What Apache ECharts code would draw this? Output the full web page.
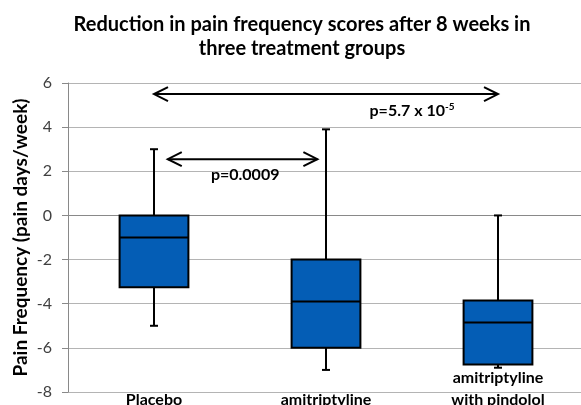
<!DOCTYPE html>
<html><head><meta charset="utf-8">
<script src="https://cdn.jsdelivr.net/npm/echarts@6/dist/echarts.min.js"></script>
<style>html,body{margin:0;padding:0;background:#fff}#c{width:581px;height:405px}</style>
</head><body><div id="c"></div>
<script>
const titleText = 'Reduction in pain frequency scores after 8 weeks in\nthree treatment groups';
const yAxisName = 'Pain Frequency (pain days/week)';
const categories = ['Placebo', 'amitriptyline', 'amitriptyline\nwith pindolol'];
const whiskerLow = [-5, -7, -6.9];
const q1 = [-3.25, -6, -6.75];
const median = [-1, -3.9, -4.85];
const q3 = [0, -2, -3.85];
const whiskerHigh = [3, 3.9, 0];
const yMin = -8, yMax = 6, yStep = 2;
// comparison arrows: [from category, to category, y value]
const arrowFrom = [0.08, 0];
const arrowTo = [0.95, 2];
const arrowY = [2.55, 5.5];
// p-value labels: [category position, y value]
const pText = ['{t|p=0.0009}', '{t|p=5.7 x 10}{s|-5}'];
const pX = [0.53, 1.5];
const pY = [1.82, 4.75];

const FONT = 'Lato, "Open Sans", sans-serif';
const boxData = categories.map((c, i) => [i, whiskerLow[i], q1[i], median[i], q3[i], whiskerHigh[i]]);
const arrowData = arrowFrom.map((f, i) => [f, arrowTo[i], arrowY[i]]);
const labelData = pX.map((x, i) => [x, pY[i], i]);

// map a fractional category position through the category axis
function catCoord(api, pos, val) {
  const c0 = api.coord([0, val]);
  const c1 = api.coord([1, val]);
  return [c0[0] + (c1[0] - c0[0]) * pos, c0[1]];
}

const chart = echarts.init(document.getElementById('c'), null, {renderer: 'canvas'});
chart.setOption({
  animation: false,
  title: {
    text: titleText, left: 297, top: 8, textAlign: 'center',
    textStyle: {fontFamily: FONT, fontSize: 20, fontWeight: 'bold', color: '#000', lineHeight: 24}
  },
  grid: {left: 68, top: 83, width: 516, height: 309, containLabel: false, outerBoundsMode: 'none'},
  xAxis: {
    type: 'category',
    data: categories,
    axisLine: {show: true, lineStyle: {color: '#898989', width: 1}},
    axisTick: {show: false},
    splitLine: {show: false},
    axisLabel: {
      interval: 0, margin: 19, verticalAlign: 'bottom', lineHeight: 22,
      showMinLabel: true, showMaxLabel: true, hideOverlap: false,
      fontFamily: FONT, fontSize: 16, fontWeight: 'bold', color: '#000'
    }
  },
  yAxis: {
    type: 'value', min: yMin, max: yMax, interval: yStep,
    name: yAxisName, nameLocation: 'middle', nameRotate: 90, nameGap: 38, nameMoveOverlap: false,
    nameTextStyle: {fontFamily: FONT, fontSize: 19, fontWeight: 'bold', color: '#000'},
    axisLine: {show: true, lineStyle: {color: '#898989', width: 1}},
    axisTick: {show: true, length: 6, lineStyle: {color: '#898989'}},
    splitLine: {show: true, lineStyle: {color: '#b4b4b4', width: 1}},
    axisLabel: {margin: 16, fontFamily: FONT, fontSize: 16, color: '#404040'}
  },
  series: [
    {
      type: 'custom', data: boxData, clip: false,
      renderItem: function (params, api) {
        const idx = api.value(0);
        const pMin = api.coord([idx, api.value(1)]);
        const pQ1 = api.coord([idx, api.value(2)]);
        const pMed = api.coord([idx, api.value(3)]);
        const pQ3 = api.coord([idx, api.value(4)]);
        const pMax = api.coord([idx, api.value(5)]);
        const band = api.size([1, 0])[0];
        const half = band * 0.2;
        const cap = 4;
        const x = pQ1[0];
        const ls = {stroke: '#000', lineWidth: 2};
        return {
          type: 'group',
          children: [
            {type: 'line', shape: {x1: x, y1: pMax[1], x2: x, y2: pMin[1]}, style: ls},
            {type: 'line', shape: {x1: x - cap, y1: pMax[1], x2: x + cap, y2: pMax[1]}, style: ls},
            {type: 'line', shape: {x1: x - cap, y1: pMin[1], x2: x + cap, y2: pMin[1]}, style: ls},
            {type: 'rect', shape: {x: x - half, y: pQ3[1], width: half * 2, height: pQ1[1] - pQ3[1]},
              style: {fill: '#045db5', stroke: '#000', lineWidth: 2}},
            {type: 'line', shape: {x1: x - half, y1: pMed[1], x2: x + half, y2: pMed[1]}, style: ls}
          ]
        };
      }
    },
    {
      type: 'custom', data: arrowData, clip: false,
      renderItem: function (params, api) {
        const a = catCoord(api, api.value(0), api.value(2));
        const b = catCoord(api, api.value(1), api.value(2));
        const hw = 14, hh = 7;
        const ls = {stroke: '#000', lineWidth: 2, fill: null};
        return {
          type: 'group',
          children: [
            {type: 'line', shape: {x1: a[0], y1: a[1], x2: b[0], y2: b[1]}, style: ls},
            {type: 'polyline', shape: {points: [[a[0] + hw, a[1] - hh], [a[0], a[1]], [a[0] + hw, a[1] + hh]]}, style: ls},
            {type: 'polyline', shape: {points: [[b[0] - hw, b[1] - hh], [b[0], b[1]], [b[0] - hw, b[1] + hh]]}, style: ls}
          ]
        };
      }
    },
    {
      type: 'custom', data: labelData, clip: false,
      renderItem: function (params, api) {
        const p = catCoord(api, api.value(0), api.value(1));
        return {
          type: 'text', x: p[0], y: p[1],
          style: {
            text: pText[api.value(2)], align: 'center', verticalAlign: 'middle',
            rich: {
              t: {fontFamily: FONT, fontSize: 16, fontWeight: 'bold', fill: '#000', color: '#000'},
              s: {fontFamily: FONT, fontSize: 10, fontWeight: 'bold', fill: '#000', color: '#000', verticalAlign: 'top', padding: [0, 0, 8, 0]}
            }
          }
        };
      }
    }
  ]
});
</script></body></html>
